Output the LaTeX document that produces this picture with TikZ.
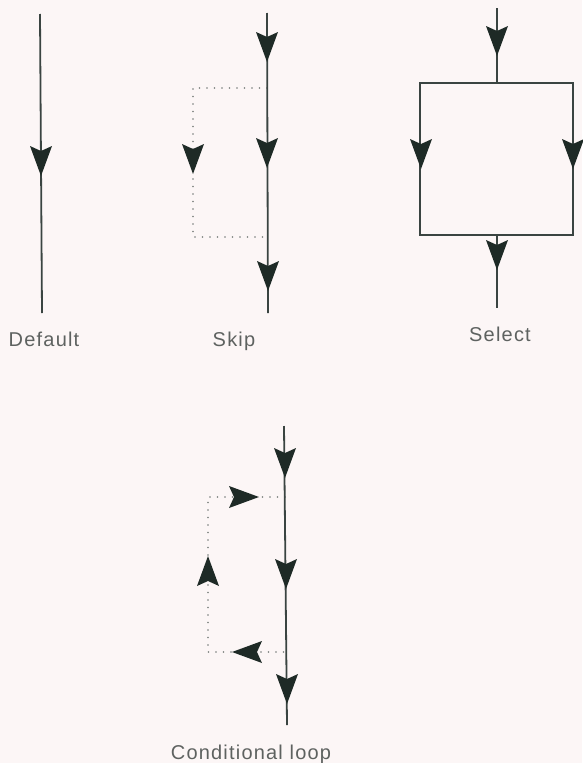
\documentclass[tikz,border=0pt]{standalone}
\usepackage{fontspec}
\newfontfamily\lblfont[LetterSpace=6]{Liberation Sans}
\definecolor{bgc}{HTML}{FCF6F6}
\definecolor{linec}{HTML}{3A4441}
\definecolor{headc}{HTML}{1E2A26}
\definecolor{dotc}{HTML}{767C79}
\definecolor{textc}{HTML}{5E6260}
\begin{document}
\begin{tikzpicture}[x=1pt,y=-1pt,
  flow/.style={draw=linec,line width=1.8pt},
  dots/.style={draw=dotc,line width=1.9pt,line cap=round,dash pattern=on 0pt off 7.5pt},
  lbl/.style={font=\lblfont\fontsize{20}{23}\selectfont,text=textc,anchor=base,inner sep=0pt},
  ahd/.pic={\fill[headc] (0,0) -- (-30,11) -- (-25,0) -- (-30,-11) -- cycle;}
]
\fill[bgc] (0,0) rectangle (582,763);
\useasboundingbox (0,0) rectangle (582,763);

% Default
\coordinate (d1) at (40,14);
\coordinate (d2) at (42,313);
\draw[flow] (d1) -- (d2);
\pic[rotate=-90] at (41,176) {ahd};
\node[lbl] (dl) at (44,346) {Default};

% Skip
\coordinate (s1) at (267,13);
\coordinate (s2) at (268,313);
\coordinate (sa) at (267,88);
\coordinate (sb) at (193,88);
\coordinate (sc) at (193,237);
\coordinate (sd) at (267,237);
\draw[dots] (sa) -- (sb) -- (sc) -- (sd);
\draw[flow] (s1) -- (s2);
\pic[rotate=-90] at (267,62) {ahd};
\pic[rotate=-90] at (267,168) {ahd};
\pic[rotate=-90] at (268,291) {ahd};
\pic[rotate=-90] at (193,174) {ahd};
\node[lbl] (sl) at (234,346) {Skip};

% Select
\coordinate (e1) at (497,8);
\coordinate (e2) at (497,83);
\coordinate (e3) at (497,235);
\coordinate (e4) at (497,308);
\draw[flow] (e1) -- (e2);
\draw[flow] (420,83) rectangle (573,235);
\draw[flow] (e3) -- (e4);
\pic[rotate=-90] at (497,56) {ahd};
\pic[rotate=-90] at (421,169) {ahd};
\pic[rotate=-90] at (573,169) {ahd};
\pic[rotate=-90] at (497,270) {ahd};
\node[lbl] (el) at (500,341) {Select};

% Conditional loop
\coordinate (c1) at (284,426);
\coordinate (c2) at (287,725);
\coordinate (ca) at (285,497);
\coordinate (cb) at (208,497);
\coordinate (cc) at (208,652);
\coordinate (cd) at (287,652);
\draw[dots] (ca) -- (cb) -- (cc) -- (cd);
\draw[flow] (c1) -- (c2);
\pic[rotate=-90] at (285,478) {ahd};
\pic[rotate=-90] at (286,589) {ahd};
\pic[rotate=-90] at (287,704) {ahd};
\pic[rotate=0] at (259,497) {ahd};
\pic[rotate=90] at (208,556) {ahd};
\pic[rotate=180] at (232,652) {ahd};
\node[lbl] (cl) at (251,759) {Conditional loop};
\end{tikzpicture}
\end{document}
